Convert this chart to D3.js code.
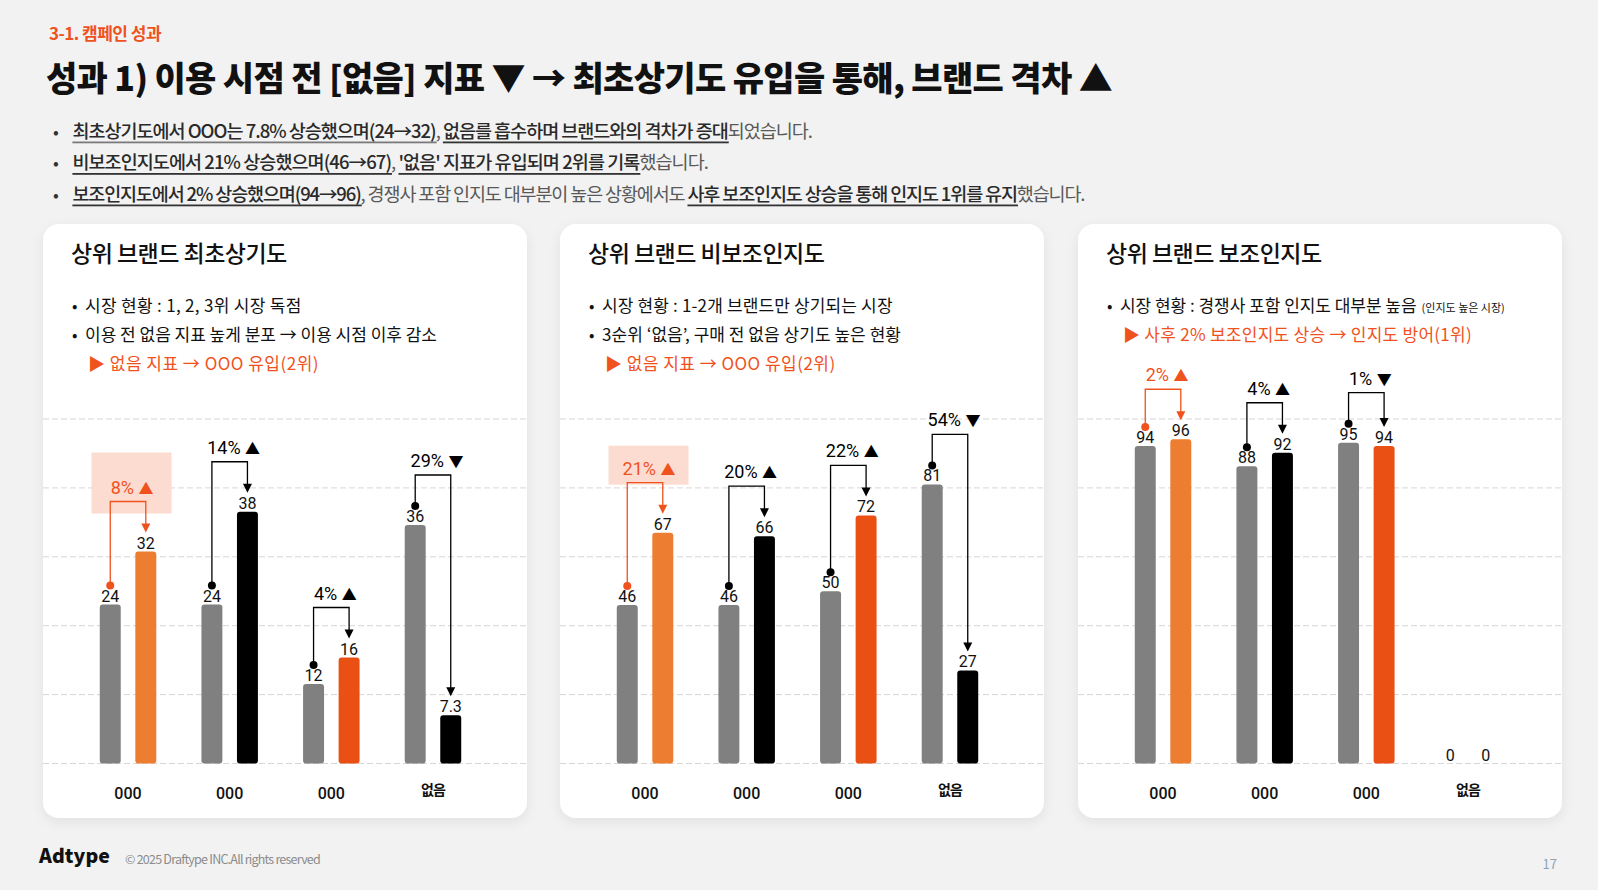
<!DOCTYPE html>
<html><head><meta charset="utf-8">
<script src="https://cdn.jsdelivr.net/npm/d3@7"></script>
<style>
body{margin:0;background:#f2f2f2;}
svg{display:block;}
text{font-family:"Noto Sans CJK KR","Noto Sans",sans-serif;white-space:pre;}
.num{font-family:Roboto,"Noto Sans CJK KR",sans-serif;}
</style></head><body>
<svg id="c" width="1598" height="890"></svg>
<script>
// ---------- data ----------
const categories = ["000","000","000","없음"];
const panelTitles = ["상위 브랜드 최초상기도","상위 브랜드 비보조인지도","상위 브랜드 보조인지도"];
const firstRecallBefore = [24,24,12,36];
const firstRecallAfter  = [32,38,16,7.3];
const unaidedBefore = [46,46,50,81];
const unaidedAfter  = [67,66,72,27];
const aidedBefore = [94,88,95,0];
const aidedAfter  = [96,92,94,0];
const firstRecallChange = ["8%","14%","4%","29%"];
const unaidedChange     = ["21%","20%","22%","54%"];
const aidedChange       = ["2%","4%","1%",""];
const firstRecallDir = ["▲","▲","▲","▼"];
const unaidedDir     = ["▲","▲","▲","▼"];
const aidedDir       = ["▲","▲","▼",""];
const yMaxes = [52,100,102];
const afterColors = ["#ED7D31","#000000","#EA5014","#000000"];

const panelBullets = [
  ["시장 현황 : 1, 2, 3위 시장 독점","이용 전 없음 지표 높게 분포 → 이용 시점 이후 감소"],
  ["시장 현황 : 1-2개 브랜드만 상기되는 시장","3순위 ‘없음’, 구매 전 없음 상기도 높은 현황"],
  ["시장 현황 : 경쟁사 포함 인지도 대부분 높음"]
];
const panelSmallNote = ["","","(인지도 높은 시장)"];
const panelNotes = ["▶ 없음 지표 → OOO 유입(2위)","▶ 없음 지표 → OOO 유입(2위)","▶ 사후 2% 보조인지도 상승 → 인지도 방어(1위)"];

const sectionLabel = "3-1. 캠페인 성과";
const headline = "성과 1) 이용 시점 전 [없음] 지표 ▼ → 최초상기도 유입을 통해, 브랜드 격차 ▲";
const summaryLines = [
  [{t:"최초상기도에서 OOO는 7.8% 상승했으며(24→32)",u:1},{t:", "},{t:"없음를 흡수하며 브랜드와의 격차가 증대",u:2},{t:"되었습니다."}],
  [{t:"비보조인지도에서 21% 상승했으며(46→67)",u:2},{t:", "},{t:"'없음' 지표가 유입되며 2위를 기록",u:2},{t:"했습니다."}],
  [{t:"보조인지도에서 2% 상승했으며(94→96)",u:2},{t:", 경쟁사 포함 인지도 대부분이 높은 상황에서도 "},{t:"사후 보조인지도 상승을 통해 인지도 1위를 유지",u:2},{t:"했습니다."}]
];
const footerBrand = "Adtype";
const footerCopy = "© 2025 Draftype INC.All rights reserved";
const pageNumber = "17";

// ---------- layout ----------
const W = 1598, H = 890;
const ORANGE_TXT = "#F0521E";
const cardX = [43,560,1078], cardW = 484, cardY = 224, cardH = 594;
const baseY = 763.5, topY = 419;
const titleTargets = [215.7,236.4,215.6];
const bulletTargets = [[216.7,352],[290.7,299],[296.6]];
const noteTargets = [231,230.6,349];
const boxPads = [{top:49,bottom:12},{top:37,bottom:2},null];

function draw(){
const svg = d3.select("#c");
const defs = svg.append("defs");
const f = defs.append("filter").attr("id","sh").attr("x","-10%").attr("y","-10%").attr("width","120%").attr("height","125%");
f.append("feDropShadow").attr("dx",0).attr("dy",4).attr("stdDeviation",6).attr("flood-color","#000").attr("flood-opacity",0.07);

svg.append("rect").attr("width",W).attr("height",H).attr("fill","#f2f2f2");

function fitLine(g, x, y, segs, size, target, family){
  const nodes = segs.map(s => {
    const t = g.append("text").attr("x",0).attr("y",y)
     .attr("font-size",s.size||size).attr("font-weight",s.w||400).attr("fill",s.fill||"#111").text(s.t);
    if (family) t.attr("font-family",family);
    return t;
  });
  let nat = 0, n = 0;
  nodes.forEach((nd,i)=>{ nat += nd.node().getComputedTextLength(); n += [...segs[i].t].length; });
  const ls = target ? (target - nat)/n : 0;
  let cx = x;
  nodes.forEach((nd,i)=>{
    nd.attr("letter-spacing", ls).attr("x", cx);
    const w = nd.node().getComputedTextLength();
    if (segs[i].ul) g.append("rect").attr("x",cx).attr("y",y+4).attr("width",w-ls).attr("height",1.8).attr("fill",segs[i].ul);
    cx += w;
  });
  return cx;
}

// header
const hg = svg.append("g");
fitLine(hg, 49, 40, [{t:sectionLabel,w:700,fill:ORANGE_TXT}], 17, 112);
fitLine(hg, 46, 91, [{t:headline,w:900,fill:"#111"}], 34, 1066);
const lineY = [137.5,169,200.5];
const lineTargets = [739.6,635.6,1012];
summaryLines.forEach((segs,i)=>{
  hg.append("text").attr("x",53).attr("y",lineY[i]).attr("font-size",17).attr("fill","#333").text("•");
  const s2 = segs.map(s => s.u ? {t:s.t,w:500,fill:"#2a2a2a",ul: s.u===1?"#7a7a7a":"#333"} : {t:s.t,w:400,fill:"#595959"});
  fitLine(hg, 72.4, lineY[i], s2, 18.5, lineTargets[i]);
});

// panels
const befores = [firstRecallBefore, unaidedBefore, aidedBefore];
const afters = [firstRecallAfter, unaidedAfter, aidedAfter];
const changes = [firstRecallChange, unaidedChange, aidedChange];
const dirs = [firstRecallDir, unaidedDir, aidedDir];

cardX.forEach((cx,p)=>{
  const g = svg.append("g");
  g.append("rect").attr("x",cx).attr("y",cardY).attr("width",cardW).attr("height",cardH)
    .attr("rx",16).attr("fill","#fff").attr("filter","url(#sh)");

  const y = d3.scaleLinear().domain([0,yMaxes[p]]).range([baseY, topY]);
  const x0 = d3.scaleBand().domain(d3.range(categories.length)).range([cx+34.2, cx+440.8]).padding(0);
  const x1 = d3.scaleBand().domain(["before","after"])
     .range([x0.bandwidth()/2-28.25, x0.bandwidth()/2+28.25]).paddingInner(0.41).paddingOuter(0);
  const bw = x1.bandwidth();

  // grid
  const ticks = d3.range(6).map(i => yMaxes[p]*i/5);
  g.selectAll(".grid").data(ticks).enter().append("line")
    .attr("x1",cx).attr("x2",cx+cardW).attr("y1",d=>y(d)).attr("y2",d=>y(d))
    .attr("stroke","#d6d6d6").attr("stroke-width",1).attr("stroke-dasharray","6,3");

  // title & bullets
  fitLine(g, cx+28, 262, [{t:panelTitles[p],w:500,fill:"#111"}], 23, titleTargets[p]);
  const bl = [311.5,340.5,369.5];
  panelBullets[p].forEach((b,i)=>{
    g.append("text").attr("x",cx+29).attr("y",bl[i]).attr("font-size",16).attr("fill","#111").text("•");
    const end = fitLine(g, cx+42, bl[i], [{t:b,w:400,fill:"#111"}], 17, bulletTargets[p][i]);
    if (i===0 && panelSmallNote[p]) {
      g.append("text").attr("x",end+5).attr("y",bl[i]).attr("font-size",11).attr("fill","#111").text(panelSmallNote[p]);
    }
  });
  fitLine(g, cx+45, bl[panelBullets[p].length], [{t:panelNotes[p],w:400,fill:ORANGE_TXT}], 17, noteTargets[p]);

  // bars
  const rows = categories.map((c,i)=>({i, c, b:befores[p][i], a:afters[p][i], ch:changes[p][i], d:dirs[p][i]}));
  const grp = g.selectAll(".grp").data(rows).enter().append("g")
     .attr("transform", d=>`translate(${x0(d.i)},0)`);
  grp.append("rect").attr("x",x1("before")).attr("width",bw)
     .attr("y",d=>y(d.b)).attr("height",d=>baseY-y(d.b)).attr("rx",d=>d.b>0?3:0).attr("fill","#808080");
  grp.append("rect").attr("x",x1("after")).attr("width",bw)
     .attr("y",d=>y(d.a)).attr("height",d=>baseY-y(d.a)).attr("rx",d=>d.a>0?3:0).attr("fill",d=>afterColors[d.i]);
  grp.append("text").attr("class","num").attr("x",x1("before")+bw/2).attr("y",d=>y(d.b)-3)
     .attr("text-anchor","middle").attr("font-size",16).attr("fill","#111").text(d=>d.b);
  grp.append("text").attr("class","num").attr("x",x1("after")+bw/2).attr("y",d=>y(d.a)-3)
     .attr("text-anchor","middle").attr("font-size",16).attr("fill","#111").text(d=>d.a);
  grp.append("text").attr("class",d=>d.c==="없음"?"":"num").attr("x",x0.bandwidth()/2)
     .attr("y",d=>d.c==="없음"?795:798.5).attr("text-anchor","middle")
     .attr("font-size",d=>d.c==="없음"?14:16).attr("font-weight",d=>d.c==="없음"?700:500)
     .attr("letter-spacing",d=>d.c==="없음"?-1:0).attr("fill","#111").text(d=>d.c);

  // change annotations
  rows.filter(d=>d.ch).forEach(d=>{
    const gx = x0(d.i);
    const xb = gx + x1("before")+bw/2, xa = gx + x1("after")+bw/2;
    const yb = y(d.b), ya = y(d.a);
    const top = Math.min(yb,ya) - 50;
    const col = d.i===0 ? ORANGE_TXT : "#000";
    if (d.i===0 && boxPads[p]) {
      const mid = gx + x0.bandwidth()/2;
      g.append("rect").attr("x",mid-36.5).attr("width",80)
        .attr("y",top-boxPads[p].top).attr("height",boxPads[p].top+boxPads[p].bottom)
        .attr("fill","#FCDCD0");
    }
    g.append("path").attr("d",`M${xb},${yb-19}V${top}H${xa}V${ya-26}`)
      .attr("fill","none").attr("stroke",col).attr("stroke-width",1.3);
    g.append("circle").attr("cx",xb).attr("cy",yb-19).attr("r",4).attr("fill",col);
    g.append("path").attr("d",`M${xa-4.5},${ya-28}L${xa+4.5},${ya-28}L${xa},${ya-19}Z`).attr("fill",col);
    const t = g.append("text").attr("class","num").attr("x",(xb+xa)/2+4).attr("y",top-8).attr("text-anchor","middle")
      .attr("font-size",18).attr("fill",col);
    t.append("tspan").text(`${d.ch} `);
    t.append("tspan").attr("font-family","'Noto Sans CJK KR'").attr("font-size",15).text(d.d);
  });
});

// footer
fitLine(svg, 39, 863, [{t:footerBrand,w:800,fill:"#111"}], 19.5, 71, "Inter, 'Noto Sans', sans-serif");
fitLine(svg, 125, 864, [{t:footerCopy,w:400,fill:"#8c8c8c"}], 12.5, 195, "Inter, 'Noto Sans', sans-serif");
svg.append("text").attr("x",1557).attr("y",869).attr("text-anchor","end").attr("font-size",13)
  .attr("fill","#8da2b8").text(pageNumber);
}
(document.fonts && document.fonts.ready ? document.fonts.ready : Promise.resolve()).then(draw);
</script>
</body></html>
